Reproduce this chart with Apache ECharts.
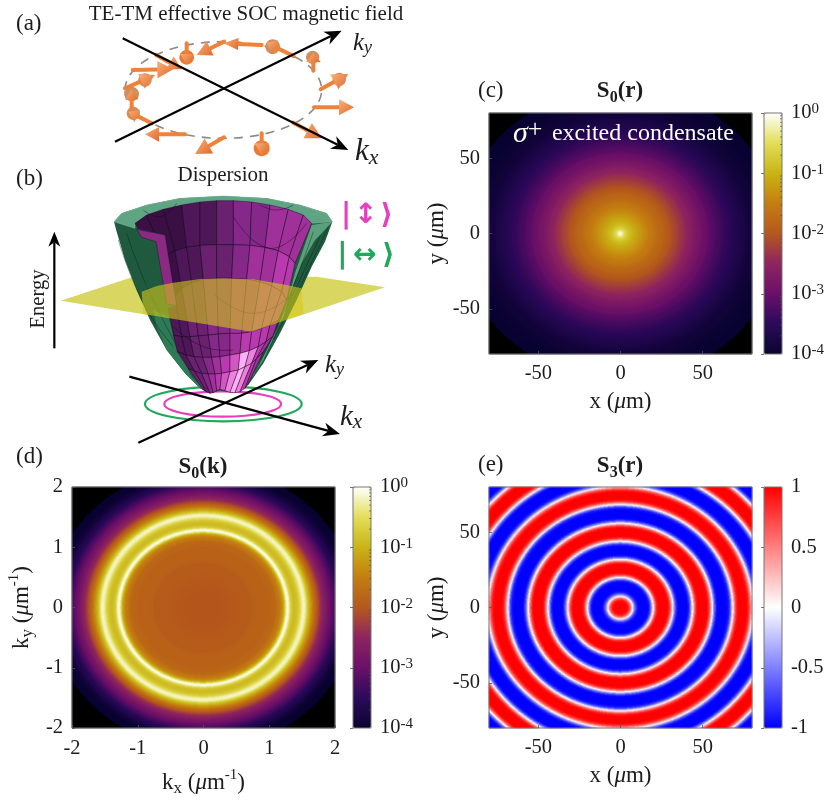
<!DOCTYPE html>
<html>
<head>
<meta charset="utf-8">
<style>html,body{margin:0;padding:0;background:#fff}#chart{width:830px;height:805px}</style>
<script src="https://cdn.jsdelivr.net/npm/echarts@6/dist/echarts.min.js"></script>
</head>
<body>
<div id="chart"></div>
<script>
// radial profiles, one value per radius step
// S0(r): log10 of intensity, step 1 um
var s0rStep = 1;
var s0rProfile = [0,-.18,-.42,-.6,-.72,-.82,-.9,-.97,-1.03,-1.09,-1.14,-1.19,-1.24,-1.29,-1.34,-1.39,-1.44,-1.48,-1.52,-1.56,
  -1.6,-1.64,-1.68,-1.72,-1.76,-1.8,-1.84,-1.88,-1.92,-1.96,-2,-2.05,-2.09,-2.14,-2.18,-2.23,-2.27,-2.32,-2.36,-2.41,
  -2.45,-2.5,-2.54,-2.59,-2.63,-2.68,-2.72,-2.76,-2.81,-2.85,-2.9,-2.94,-2.98,-3.02,-3.06,-3.1,-3.14,-3.18,-3.22,-3.26,
  -3.3,-3.33,-3.36,-3.39,-3.42,-3.45,-3.48,-3.51,-3.54,-3.57,-3.6,-3.63,-3.65,-3.68,-3.7,-3.73,-3.75,-3.78,-3.8,-3.83,
  -3.85,-3.87,-3.88,-3.9,-3.91,-3.92,-3.93,-3.94,-3.95,-3.96,-3.97,-3.98,-3.98,-3.99,-3.99,-3.99,-3.99,-3.99,-5,-5,-5,-5,-5,-5,-5,-5,-5,-5,-5,-5,-5,-5,-5,-5,-5];
// S0(k): log10 of intensity, step 0.025 1/um
var s0kStep = 0.025;
var s0kProfile = [-2,-2,-2,-2,-2,-2,-2,-2,-2,-2,-2,-2,-1.99,-1.98,-1.98,-1.97,-1.97,-1.96,-1.96,-1.95,-1.95,-1.94,-1.94,-1.93,
  -1.93,-1.92,-1.92,-1.91,-1.91,-1.9,-1.9,-1.89,-1.89,-1.88,-1.88,-1.87,-1.87,-1.86,-1.86,-1.85,-1.85,-1.83,-1.8,-1.78,-1.75,
  -1.65,-1.58,-1.5,-1.35,-1.1,-.55,-.05,-.15,-.6,-.8,-.9,-.9,-.85,-.75,-.55,-.3,-.15,-.25,-.6,-.9,-1.15,-1.35,-1.55,-1.75,-1.95,
  -2.1,-2.3,-2.45,-2.55,-2.65,-2.75,-2.85,-2.95,-3.05,-3.15,-3.25,-3.35,-3.45,-3.55,-3.62,-3.7,-3.77,-3.84,-3.9,-3.96,-3.98,-3.99,-3.99,-3.99,-5,-5,-5,-5,-5,-5,-5,-5];
// S3(r): step 1 um
var s3rStep = 1;
var s3rProfile = [1,1,1,1,.97,.88,.65,.25,-.2,-.6,-.85,-.97,-1,-1,-1,-1,-1,-.97,-.82,-.45,0,.45,.82,.97,1,1,1,1,1,.97,.8,.45,0,
  -.45,-.8,-.97,-1,-1,-1,-1,-1,-.97,-.8,-.45,0,.45,.8,.97,1,1,1,1,1,.97,.8,.45,0,-.45,-.8,-.97,-1,-1,-1,-1,-1,-.97,-.9,-.65,-.2,
  .25,.65,.9,.98,1,1,1,1,.97,.85,.6,.2,-.25,-.65,-.9,-.98,-1,-1,-1,-1,-1,-.97,-.8,-.45,0,.45,.8,.97,1,1,1,1,1,.97,.8,.45,0,
  -.45,-.8,-.97,-1,-1,-1,-1,-1,-1];

var rTicks = [-50,0,50];
var kTicks = [-2,-1,0,1,2];
var s0Levels = [0,-1,-2,-3,-4];
var logMinors = [.301,.477,.602,.699,.778,.845,.903,.954];
var infernoStops = ['#0a0530','#2c0a5a','#6a1068','#8e2460','#b4581f','#c47d10','#c9b416','#e2de58','#ffffff'];
var s3Stops = ['#0000ff','#ffffff','#ff0000'];

// panel (a) schematic, in crop units (3 per px)
var ringA = [670,270,295,145];
var axesA = [[368,115,1045,450],[345,425,1025,92]];
var arrowsA = [[785,135,670,130,45,18],[672,125,590,165,45,24],[560,130,560,192,30,20],[468,165,545,208,40,22],
  [398,210,520,208,48,26],[375,265,465,225,45,24],[395,350,395,268,30,20],[455,370,385,335,30,20],
  [555,403,435,403,42,22],[672,412,585,462,48,26],[785,400,785,465,35,22],[880,368,965,415,48,26],
  [942,322,1062,322,45,24],[962,268,1045,222,48,26],[940,212,940,158,28,22],[880,168,800,128,28,22]];
var arrowBasesA = [[435,240,20],[395,282,22],[400,340,20],[1018,238,20],[938,172,20],[818,140,22]];
var arrowPinsA = [[560,172,22],[785,445,24]];

// panel (b) schematic, in crop units (3 per px)
var ringsB = [[670,732,235,52],[668,732,175,38]];
var axesB = [[388,650,1020,822],[415,848,955,600],[163,565,163,215]];
var planeB = [[182,422],[400,350],[950,350],[1155,382],[755,515]];
var shellB = [[342,185],[350,215],[375,300],[410,390],[450,480],[500,570],[555,640],[600,685],[630,700],[660,692],[700,698],[745,675],[790,610],[840,520],[890,420],[935,320],[975,245],[997,185],[980,160],[900,135],[800,115],[670,108],[540,115],[440,135],[365,160]];
var rimB = [[342,185],[365,160],[440,135],[540,115],[670,108],[800,115],[900,135],[980,160],[997,185],[935,190],[910,165],[865,148],[755,126],[650,122],[545,135],[440,165],[405,190],[405,205]];
var lightSideB = [[935,195],[997,185],[960,225],[945,240],[905,310],[870,400],[835,500],[790,600],[755,655],[800,570],[850,470],[885,340]];
var frontLeftB = [[505,470],[530,560],[575,650],[625,698],[600,685],[555,640],[500,570],[470,500],[460,450]];
var windowB = [[405,205],[495,225],[527,437],[500,445],[440,380],[415,290]];
var stripB = [[410,208],[495,225],[530,437],[500,432],[468,245],[425,232]];
var overlayB = [[425,395],[470,378],[520,368],[600,357],[670,355],[760,358],[860,375],[905,385],[910,462],[755,515],[430,462]];
var meshXB = [[405,440,490,545,600,650,700,755,810,865,910,935],
  [475,495,525,560,600,650,700,750,795,835,868,885],
  [505,525,545,575,610,650,695,740,780,815,845,860],
  [520,545,570,595,625,655,690,725,755,785,810,835],
  [532,558,582,608,635,660,690,720,748,775,798,818],
  [565,585,605,625,645,665,690,715,735,755,770,790],
  [610,620,630,640,650,660,675,690,705,720,735,745]];
var meshYB = [[190,165,148,135,126,122,122,126,135,148,165,190],
  [310,290,272,262,256,254,254,256,262,272,290,310],
  [440,410,385,368,358,355,355,358,365,378,395,420],
  [525,530,530,528,525,522,520,520,515,505,495,480],
  [575,585,590,592,592,590,585,580,572,560,545,530],
  [625,635,640,642,642,640,635,630,620,610,595,575],
  [690,696,700,698,692,688,692,697,698,695,685,670]];
var meshShadeB = [[0,0,0,1,1,2,3,3,4,4,4],[0,0,1,1,2,2,3,4,4,5,5],[1,1,2,2,3,3,4,4,5,5,5],[1,1,2,2,3,3,4,5,5,5,4],[1,2,2,3,4,5,6,8,7,5,4],[2,2,3,4,5,6,7,8,7,5,4]];
var meshPalette = ['#3a1044','#4e1858','#6a2170','#85288a','#a0319a','#b83aae','#d455c4','#ee80de','#ffb0f8'];
var curvesB = [[[700,170],[810,265],[920,190]],[[780,135],[830,150],[880,135]],[[430,150],[480,170],[530,130]],[[640,400],[760,460],[880,400]],[[520,500],[610,560],[700,570]]];
var greenLinesB = [[[380,220],[450,400],[560,610]],[[420,200],[480,380],[600,660]],[[355,240],[430,430],[520,560]],[[960,230],[880,400],[780,600]],[[985,200],[910,360],[820,540]],[[940,215],[860,430],[765,640]]];

var FONT = 'Liberation Serif';
var INK = '#1c1c1c';

function cellAxis(half, n){
  var out = [];
  for(var i=0;i<n;i++){ out.push(-half + (i+0.5)*2*half/n); }
  return out;
}
function lookup(profile,idx){
  var k = Math.round(idx);
  if(k<0){ k = 0; }
  if(k>=profile.length){ k = profile.length-1; }
  return profile[k];
}
// each cell averages three nearest table readings so the rings do not show steps
function mapCells(xs, ys, profile, step){
  var d = [];
  for(var i=0;i<xs.length;i++){
    for(var j=0;j<ys.length;j++){
      var t = Math.sqrt(xs[i]*xs[i]+ys[j]*ys[j])/step;
      var a = lookup(profile,t-0.34), b = lookup(profile,t), c = lookup(profile,t+0.34);
      var v = (a+b+c)/3;
      // keep the black outside edge crisp
      if(b<=-5 || a<=-5){ v = -5; }
      if(c<=-5 && b>-5){ v = b; }
      d.push([i,j,v]);
    }
  }
  return d;
}

var rx = cellAxis(80,263), ry = cellAxis(80,241);
var kx = cellAxis(2,263), ky = cellAxis(2,241);

function c2(api,x,y){ return api.coord([x,y]); }
function polyItem(api,pts,style,z2){
  var p = pts.map(function(q){ return c2(api,q[0],q[1]); });
  return {type:'polygon',z2:z2||0,shape:{points:p},style:style};
}
function curveItem(api,pts,stroke,w){
  var p = pts.map(function(q){ return c2(api,q[0],q[1]); });
  return {type:'polyline',shape:{points:p,smooth:0.5},style:{fill:null,stroke:stroke,lineWidth:w}};
}
function ellipseItem(api,e,style){
  var c = c2(api,e[0],e[1]), s = api.size([e[2],e[3]]);
  return {type:'ellipse',shape:{cx:c[0],cy:c[1],rx:s[0],ry:s[1]},style:style};
}
// black axis line with a swept head
function axisArrow(api,a,head,half,w){
  var p0 = c2(api,a[0],a[1]), p1 = c2(api,a[2],a[3]);
  var dx = p1[0]-p0[0], dy = p1[1]-p0[1], l = Math.sqrt(dx*dx+dy*dy);
  dx/=l; dy/=l;
  var bx = p1[0]-dx*head, by = p1[1]-dy*head;
  var nx = p1[0]-dx*head*0.7, ny = p1[1]-dy*head*0.7;
  return [
    {type:'line',shape:{x1:p0[0],y1:p0[1],x2:nx,y2:ny},style:{stroke:'#000',lineWidth:w}},
    {type:'polygon',shape:{points:[p1,[bx-dy*half,by+dx*half],[nx,ny],[bx+dy*half,by-dx*half]]},style:{fill:'#000'}}
  ];
}
function orangeArrow(api,a){
  var p0 = c2(api,a[0],a[1]), p1 = c2(api,a[2],a[3]);
  var dx = p1[0]-p0[0], dy = p1[1]-p0[1], l = Math.sqrt(dx*dx+dy*dy);
  dx/=l; dy/=l;
  var head = a[4]/3, half = a[5]/3;
  var bx = p1[0]-dx*head, by = p1[1]-dy*head;
  return [
    {type:'line',shape:{x1:p0[0],y1:p0[1],x2:bx,y2:by},style:{stroke:'#ee8238',lineWidth:4,lineCap:'round'}},
    {type:'polygon',shape:{points:[p1,[bx-dy*half,by+dx*half],[bx+dy*half,by-dx*half]]},
     style:{fill:{type:'linear',x:0,y:0,x2:1,y2:1,colorStops:[{offset:0,color:'#f9b27a'},{offset:1,color:'#e0682a'}]}}}
  ];
}

function renderA(params,api){
  var kids = [];
  kids.push(ellipseItem(api,ringA,{fill:null,stroke:'#8a8a8a',lineWidth:1.6,lineDash:[9,7]}));
  arrowBasesA.forEach(function(b){ kids.push(ellipseItem(api,[b[0],b[1],b[2],b[2]],{fill:'#cf8f5e'})); });
  arrowPinsA.forEach(function(b){ kids.push(ellipseItem(api,[b[0],b[1],b[2],b[2]],{fill:'#ea7a35'})); });
  arrowsA.forEach(function(a){ kids = kids.concat(orangeArrow(api,a)); });
  axesA.forEach(function(a){ kids = kids.concat(axisArrow(api,a,17,7,2.2)); });
  return {type:'group',children:kids};
}
function renderB(params,api){
  var kids = [];
  kids.push(ellipseItem(api,ringsB[0],{fill:null,stroke:'#20a85c',lineWidth:2.2}));
  kids.push(ellipseItem(api,ringsB[1],{fill:null,stroke:'#e540bd',lineWidth:2.2}));
  axesB.slice(0,2).forEach(function(a){ kids = kids.concat(axisArrow(api,a,17,7,2.2)); });
  kids.push(polyItem(api,planeB,{fill:'#d9d662'}));
  kids.push(polyItem(api,shellB,{fill:'#1f5a3f'}));
  kids.push(polyItem(api,rimB,{fill:'#5fa583',stroke:'#8fbfa8',lineWidth:0.5}));
  kids.push(polyItem(api,lightSideB,{fill:'#5aa07c'}));
  kids.push(polyItem(api,frontLeftB,{fill:'#2f7a56'}));
  greenLinesB.forEach(function(l){ kids.push(curveItem(api,l,'rgba(0,30,15,.55)',0.7)); });
  meshShadeB.forEach(function(row,r){
    row.forEach(function(s,c){
      var q = [[meshXB[r][c],meshYB[r][c]],[meshXB[r][c+1],meshYB[r][c+1]],[meshXB[r+1][c+1],meshYB[r+1][c+1]],[meshXB[r+1][c],meshYB[r+1][c]]];
      kids.push(polyItem(api,q,{fill:meshPalette[s],stroke:'rgba(25,0,25,.6)',lineWidth:0.7}));
    });
  });
  curvesB.forEach(function(l){ kids.push(curveItem(api,l,'rgba(25,0,25,.6)',0.7)); });
  kids.push(polyItem(api,windowB,{fill:'#1f5a3f'}));
  kids.push(polyItem(api,stripB,{fill:'#8a2a82',stroke:'rgba(25,0,25,.6)',lineWidth:0.6}));
  kids.push(polyItem(api,overlayB,{fill:'rgba(212,202,25,.6)'}));
  kids = kids.concat(axisArrow(api,axesB[2],15,6,2.2));
  return {type:'group',children:kids};
}
// log minor ticks on the right edge of a colour bar
function renderMinors(params,api){
  var kids = [], right = params.coordSys.x + params.coordSys.width;
  s0Levels.slice(1).forEach(function(d){
    logMinors.forEach(function(m){
      var y = api.coord([0,d+m])[1];
      kids.push({type:'line',shape:{x1:right-2,y1:y,x2:right,y2:y},style:{stroke:'#555',lineWidth:0.7}});
    });
  });
  return {type:'group',children:kids};
}

// plots, bars, schematics
var plots = [
  {left:489,top:113,width:263,height:241},
  {left:72,top:487,width:263,height:241},
  {left:489,top:487,width:263,height:241}
];
var bars = [
  {left:764,top:113,width:18,height:241},
  {left:353,top:487,width:18,height:241},
  {left:764,top:487,width:18,height:241}
];
var grids = [];
plots.concat(bars).forEach(function(g){
  grids.push({left:g.left,top:g.top,width:g.width,height:g.height,containLabel:false,show:true,backgroundColor:'transparent',borderColor:'#777',borderWidth:1,z:5});
});
grids.push({left:0,top:0,width:420,height:180});
grids.push({left:0,top:160,width:420,height:300});

var nameRich = {it:{fontStyle:'italic',fontFamily:FONT,fontSize:23,color:INK},
  sub:{fontSize:17,fontFamily:FONT,color:INK,verticalAlign:'bottom',padding:[12,0,0,0]},
  sup:{fontSize:15,fontFamily:FONT,color:INK,verticalAlign:'top',padding:[0,0,8,0]}};
function tickAxis(dim,grid,lo,hi,ticks,name,gap,margin){
  var a = {type:'value',gridIndex:grid,min:lo,max:hi,position:dim=='x'?'bottom':'left',
    name:name,nameLocation:'middle',nameGap:gap,
    nameTextStyle:{fontFamily:FONT,fontSize:23,color:INK,rich:nameRich},
    axisLine:{show:false},splitLine:{show:false},z:6,
    axisTick:{show:true,inside:true,length:3,customValues:ticks,lineStyle:{color:'#555',width:0.8}},
    axisLabel:{show:true,margin:margin,customValues:ticks,fontFamily:FONT,fontSize:20.5,color:INK,hideOverlap:false,showMinLabel:true,showMaxLabel:true}};
  return a;
}
function cellAxisOpt(dim,grid,vals){
  return {type:'category',gridIndex:grid,data:vals.map(function(v,i){return i;}),show:false};
}
var xAxes = [
  cellAxisOpt('x',0,rx), cellAxisOpt('x',1,kx), cellAxisOpt('x',2,rx),
  tickAxis('x',0,-80,80,rTicks,'x ({it|μ}m)',36,9),
  tickAxis('x',1,-2,2,kTicks,'k{sub|x} ({it|μ}m{sup|-1})',40,10),
  tickAxis('x',2,-80,80,rTicks,'x ({it|μ}m)',36,9),
  {type:'value',gridIndex:3,show:false},{type:'value',gridIndex:4,show:false},{type:'value',gridIndex:5,show:false},
  {type:'value',gridIndex:6,min:0,max:1260,show:false},
  {type:'value',gridIndex:7,min:0,max:1260,show:false}
];
var yAxes = [
  cellAxisOpt('y',0,ry), cellAxisOpt('y',1,ky), cellAxisOpt('y',2,ry),
  tickAxis('y',0,-80,80,rTicks,'y ({it|μ}m)',28,9),
  tickAxis('y',1,-2,2,kTicks,'k{sub|y} ({it|μ}m{sup|-1})',36,9),
  tickAxis('y',2,-80,80,rTicks,'y ({it|μ}m)',34,9)
];
function barAxis(grid,lo,hi,step,fmt){
  return {type:'value',gridIndex:grid,position:'right',min:lo,max:hi,interval:step,
    axisLine:{show:false},splitLine:{show:false},z:6,
    axisTick:{show:true,inside:true,length:3,lineStyle:{color:'#555',width:0.8}},
    axisLabel:{show:true,margin:9,fontFamily:FONT,fontSize:20.5,color:INK,formatter:fmt,
      rich:{s:{fontSize:15,fontFamily:FONT,color:INK,verticalAlign:'top',padding:[0,0,7,0]}}}};
}
function logFmt(v){ return '10{s|'+v+'}'; }
yAxes.push(barAxis(3,s0Levels[4],s0Levels[0],1,logFmt));
yAxes.push(barAxis(4,s0Levels[4],s0Levels[0],1,logFmt));
yAxes.push(barAxis(5,-1,1,0.5,function(v){return ''+v;}));
yAxes.push({type:'value',gridIndex:6,min:0,max:540,inverse:true,show:false});
yAxes.push({type:'value',gridIndex:7,min:0,max:900,inverse:true,show:false});

function mapSeries(i,data){
  return {type:'heatmap',xAxisIndex:i,yAxisIndex:i,data:data,progressive:0,silent:true,animation:false,
    itemStyle:{borderWidth:0},emphasis:{disabled:true}};
}
function vm(i,lo,hi,stops,b,range){
  return {type:'continuous',seriesIndex:i,dimension:2,min:lo,max:hi,range:range,calculable:false,hoverLink:false,
    left:b.left,top:b.top,itemWidth:b.width,itemHeight:b.height,padding:0,
    inRange:{color:stops},outOfRange:{color:['#000']}};
}

// text
function txt(x,y,text,o){
  o = o||{};
  return {type:'text',x:x,y:y,z:50,rotation:o.rotation||0,silent:true,
    style:{text:text,fill:o.fill||INK,font:(o.italic?'italic ':'')+(o.bold?'bold ':'')+(o.size||20)+'px "'+(o.family||FONT)+'"',
      align:o.align||'center',verticalAlign:'middle',rich:o.rich}};
}
var titleRich = {sub:{font:'bold 16px "'+FONT+'"',fill:INK,verticalAlign:'bottom',padding:[13,0,0,0]}};
function kLabel(x,y,sub,size){
  return txt(x,y,'k{s|'+sub+'}',{italic:true,size:size,align:'left',
    rich:{s:{font:'italic '+Math.round(size*0.72)+'px "'+FONT+'"',fill:INK,verticalAlign:'bottom',padding:[size*0.4,0,0,0]}}});
}
var texts = [
  txt(16,24,'(a)',{align:'left',size:23}),
  txt(246,14,'TE-TM effective SOC magnetic field',{size:21}),
  txt(16,179,'(b)',{align:'left',size:23}),
  txt(223,175,'Dispersion',{size:21}),
  txt(39,299,'Energy',{size:20.5,rotation:Math.PI/2}),
  txt(478,91,'(c)',{align:'left',size:23}),
  txt(620,91,'S{sub|0}(r)',{bold:true,size:23,rich:titleRich}),
  txt(16,457,'(d)',{align:'left',size:23}),
  txt(203,467,'S{sub|0}(k)',{bold:true,size:23,rich:titleRich}),
  txt(478,465,'(e)',{align:'left',size:23}),
  txt(620,466,'S{sub|3}(r)',{bold:true,size:23,rich:titleRich}),
  kLabel(353,43,'y',25),kLabel(355,152,'x',31),kLabel(325,365,'y',25),kLabel(340,417,'x',29),
  txt(513,134,'σ{p|+} {t|excited condensate}',{italic:true,size:30,align:'left',fill:'#fff',
    rich:{p:{font:'26px "'+FONT+'"',fill:'#fff',verticalAlign:'top',padding:[0,2,8,0]},t:{font:'24px "'+FONT+'"',fill:'#fff'}}}),
  txt(367,216,'|\u200a↕\u200a⟩',{size:28,fill:'#e540bd',family:'DejaVu Sans',bold:true}),
  txt(366,256,'|\u2009↔\u2009⟩',{size:28,fill:'#20a85c',family:'DejaVu Sans',bold:true})
];

var Tu = echarts.init(document.getElementById('chart'),null,{renderer:'canvas'});
Tu.setOption({
  animation:false,
  backgroundColor:'#fff',
  grid:grids,
  xAxis:xAxes,
  yAxis:yAxes,
  visualMap:[vm(0,-4,0,infernoStops,bars[0],[-3.9999,0]),vm(1,-4,0,infernoStops,bars[1],[-3.9999,0]),vm(2,-1,1,s3Stops,bars[2],[-1,1])],
  series:[
    mapSeries(0,mapCells(rx,ry,s0rProfile,s0rStep)),
    mapSeries(1,mapCells(kx,ky,s0kProfile,s0kStep)),
    mapSeries(2,mapCells(rx,ry,s3rProfile,s3rStep)),
    {type:'custom',xAxisIndex:9,yAxisIndex:9,data:[[0,0]],renderItem:renderA,silent:true,clip:false},
    {type:'custom',xAxisIndex:10,yAxisIndex:10,data:[[0,0]],renderItem:renderB,silent:true,clip:false},
    {type:'custom',xAxisIndex:6,yAxisIndex:6,data:[[0,0]],renderItem:renderMinors,silent:true,clip:false,z:10},
    {type:'custom',xAxisIndex:7,yAxisIndex:7,data:[[0,0]],renderItem:renderMinors,silent:true,clip:false,z:10}
  ],
  graphic:texts
});
</script>
</body>
</html>
